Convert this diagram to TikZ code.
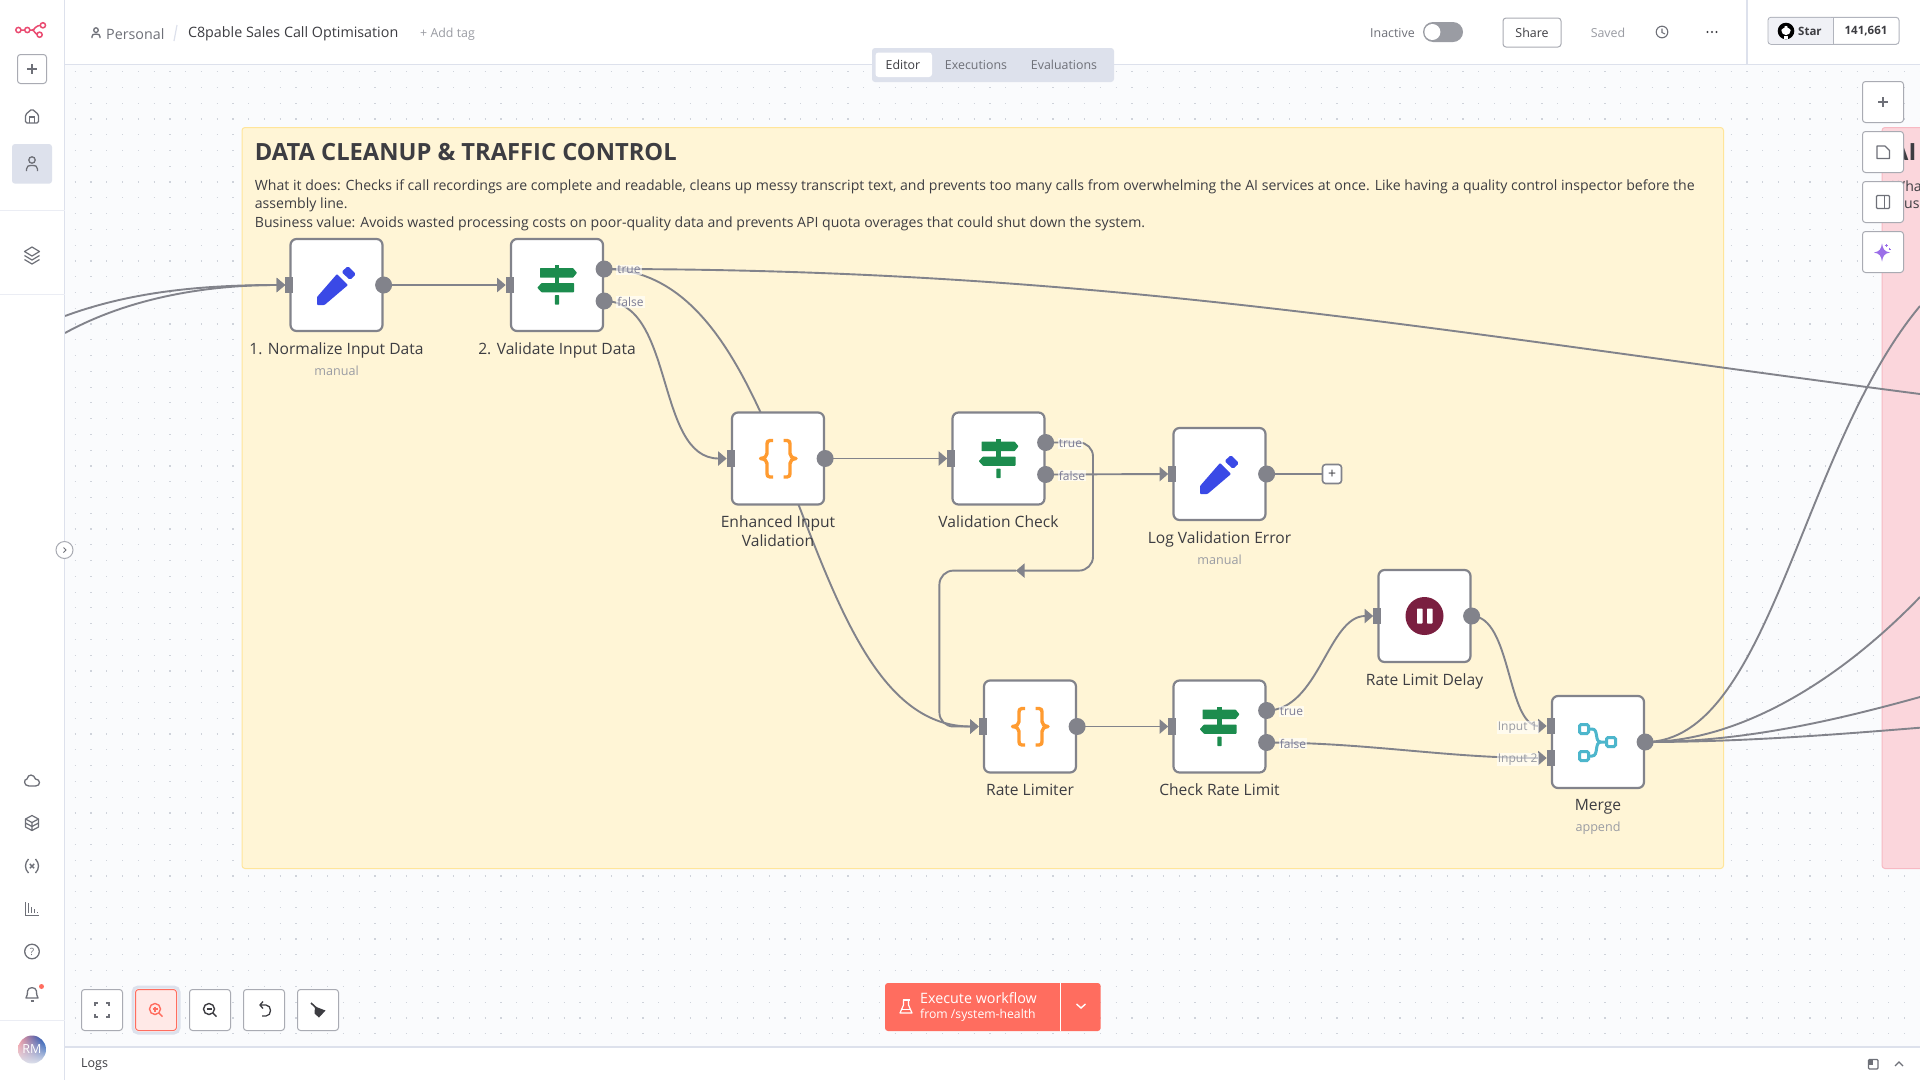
\documentclass[tikz,border=0pt]{standalone}
\usepackage{fontspec}
\setmainfont{Open Sans}
\usetikzlibrary{arrows.meta,shadings}
\definecolor{canvasbg}{HTML}{FAFBFD}
\definecolor{griddot}{HTML}{CFD3DB}
\definecolor{rulecol}{HTML}{DDE1EC}
\definecolor{stickyfill}{HTML}{FFF5D6}
\definecolor{stickyline}{HTML}{FFE59A}
\definecolor{pinkfill}{HTML}{FBD6DC}
\definecolor{pinkline}{HTML}{F7B9C3}
\definecolor{edgecol}{HTML}{82838B}
\definecolor{inkcol}{HTML}{3D3D42}
\definecolor{softcol}{HTML}{9A9CA3}
\definecolor{iconcol}{HTML}{6E7078}
\definecolor{btnline}{HTML}{A9ABB3}
\definecolor{portlab}{HTML}{7D7D95}
\definecolor{coral}{HTML}{FF6D5F}
\definecolor{penblue}{HTML}{3A49E6}
\definecolor{signgreen}{HTML}{1C8C4E}
\definecolor{braceorange}{HTML}{FF9B30}
\definecolor{pausered}{HTML}{7A1F40}
\definecolor{mergeteal}{HTML}{4DB6CC}
\definecolor{logopink}{HTML}{EA4B71}
\definecolor{sparkle}{HTML}{9B6EE8}
\pgfdeclarelayer{canvas}
\pgfdeclarelayer{edges}
\pgfdeclarelayer{ui}
\pgfsetlayers{canvas,edges,main,ui}
\tikzset{
	penicon/.pic={
		\fill[penblue, rounded corners=0.8pt] (-19.5,20) -- (-19.5,12) -- (0.5,-11) -- (11.5,0) -- (-12,20) -- cycle;
		\fill[penblue, rounded corners=1.5pt] (5,-13) -- (11.5,-19) -- (19.5,-10.7) -- (13.5,-5) -- cycle;
	},
	signicon/.pic={
		\fill[signgreen] (-2.2,-20) rectangle (2.2,-15);
		\fill[signgreen] (-2.2,-8) rectangle (2.2,-1);
		\fill[signgreen, rounded corners=0.8pt] (-2.2,10) rectangle (2.2,19.7);
		\fill[signgreen, rounded corners=0.6pt] (-17,-17) -- (16,-17) -- (20,-12.2) -- (16,-7.3) -- (-17,-7.3) -- cycle;
		\fill[signgreen, rounded corners=0.6pt] (17,-2) -- (-15.5,-2) -- (-19.7,2.7) -- (-15.5,7.3) -- (17,7.3) -- cycle;
	},
	braceicon/.pic={
		\draw[braceorange, line width=3.4pt, line join=round] (-5,-18) -- (-8,-18) .. controls (-10.5,-18) and (-11,-16.5) .. (-11,-14.5) -- (-11,-5) .. controls (-11,-2.5) and (-13,-0.5) .. (-17.5,0) .. controls (-13,0.5) and (-11,2.5) .. (-11,5) -- (-11,15) .. controls (-11,17) and (-10.5,18.5) .. (-8,18.5) -- (-5,18.5);
		\draw[braceorange, line width=3.4pt, line join=round] (5.5,-18) -- (9,-18) .. controls (11.5,-18) and (12,-16.5) .. (12,-14.5) -- (12,-5) .. controls (12,-2.5) and (14,-0.5) .. (18,0) .. controls (14,0.5) and (12,2.5) .. (12,5) -- (12,15) .. controls (12,17) and (11.5,18.5) .. (9,18.5) -- (5.5,18.5);
	},
	pauseicon/.pic={
		\fill[pausered] (0,0) circle (19pt);
		\fill[white, rounded corners=0.6pt] (-7.5,-7.5) rectangle (-2,7.5);
		\fill[white, rounded corners=0.6pt] (2.5,-7.5) rectangle (8,7.5);
	},
	mergeicon/.pic={
		\draw[mergeteal, line width=3pt] (-9,-13) -- (-6,-13) .. controls (1,-13) and (-4,0) .. (3,0) -- (8,0);
		\draw[mergeteal, line width=3pt] (-9,14) -- (-6,14) .. controls (1,14) and (-4,0) .. (3,0);
		\draw[mergeteal, line width=3pt, rounded corners=1.5pt] (-18.5,-17.5) rectangle (-9.5,-8.5);
		\draw[mergeteal, line width=3pt, rounded corners=1.5pt] (-18.5,9.5) rectangle (-9.5,18.5);
		\draw[mergeteal, line width=3pt, rounded corners=1.5pt] (8.5,-4.5) rectangle (17.5,4.5);
	},
	plusicon/.pic={
		\draw[iconcol, line width=1.3pt] (-5,0) -- (5,0) (0,-5) -- (0,5);
	},
	homeicon/.pic={
		\draw[iconcol, line width=1.3pt, rounded corners=1.5pt] (-6.5,7) -- (-6.5,-1.5) -- (0,-7) -- (6.5,-1.5) -- (6.5,7) -- cycle;
		\draw[iconcol, line width=1.3pt] (-2.5,7) -- (-2.5,1) -- (2.5,1) -- (2.5,7);
	},
	personicon/.pic={
		\draw[iconcol, line width=1.3pt] (0,-4) circle (3.2pt);
		\draw[iconcol, line width=1.3pt] (-5.5,7) -- (-5.5,5) .. controls (-5.5,2) and (-3.5,1.5) .. (0,1.5) .. controls (3.5,1.5) and (5.5,2) .. (5.5,5) -- (5.5,7);
	},
	layersicon/.pic={
		\draw[iconcol, line width=1.2pt, line join=round] (0,-8) -- (7.5,-3.5) -- (0,1) -- (-7.5,-3.5) -- cycle;
		\draw[iconcol, line width=1.2pt, line join=round] (-7.5,0.5) -- (0,5) -- (7.5,0.5);
		\draw[iconcol, line width=1.2pt, line join=round] (-7.5,4.5) -- (0,9) -- (7.5,4.5);
	},
	cloudicon/.pic={
		\draw[iconcol, line width=1.3pt] (-3,6) -- (3.5,6) .. controls (9,6) and (8.5,-1) .. (3.5,-1) .. controls (2,-6) and (-4,-6.5) .. (-5,-1) .. controls (-8.5,-1) and (-8.5,6) .. (-3,6) -- cycle;
	},
	boxicon/.pic={
		\draw[iconcol, line width=1.2pt, line join=round] (0,-7.5) -- (6.5,-4) -- (0,-0.5) -- (-6.5,-4) -- cycle;
		\draw[iconcol, line width=1.2pt, line join=round] (-6.5,-4) -- (-6.5,4) -- (0,7.5) -- (6.5,4) -- (6.5,-4) (0,-0.5) -- (0,7.5) (-6.5,0) -- (0,3.5) -- (6.5,0);
	},
	varicon/.pic={
		\draw[iconcol, line width=1.3pt] (-3.5,-7) .. controls (-7.5,-3) and (-7.5,3) .. (-3.5,7);
		\draw[iconcol, line width=1.3pt] (3.5,-7) .. controls (7.5,-3) and (7.5,3) .. (3.5,7);
		\draw[iconcol, line width=1.4pt] (-2.2,-2.2) -- (2.2,2.2) (-2.2,2.2) -- (2.2,-2.2);
	},
	charticon/.pic={
		\draw[iconcol, line width=1.2pt] (-6.5,-7) -- (-6.5,6.5) -- (7,6.5);
		\draw[iconcol, line width=1.2pt] (-3.5,4) -- (-3.5,-6) (-0.5,4) -- (-0.5,-2) (2.5,4) -- (2.5,0) (5.5,4) -- (5.5,2.5);
	},
	bellicon/.pic={
		\draw[iconcol, line width=1.3pt, line join=round] (-6,4) .. controls (-4,2) and (-5,-1) .. (-4.5,-3) .. controls (-4,-7.5) and (4,-7.5) .. (4.5,-3) .. controls (5,-1) and (4,2) .. (6,4) -- cycle;
		\draw[iconcol, line width=1.3pt] (-1.5,7) -- (1.5,7);
	},
	loupeicon/.pic={
		\draw[line width=1.4pt] (-1,-1) circle (5.5pt);
		\draw[line width=1.4pt] (3,3) -- (6.5,6.5);
	},
}
\begin{document}
\begin{tikzpicture}
		[x=1pt, y=-1pt,
		wfnode/.style={rectangle, draw=edgecol, fill=white, line width=2.2pt, rounded corners=6pt, minimum width=92pt, minimum height=92pt, inner sep=0pt},
		inport/.style={rectangle, fill=edgecol, inner sep=0pt, minimum width=8pt, minimum height=16.5pt},
		outport/.style={circle, fill=edgecol, inner sep=0pt, minimum width=17pt},
		edge/.style={draw=edgecol, line width=1.9pt},
		flow/.style={edge, -{Triangle[length=8.5pt,width=14pt]}},
		nodelabel/.style={anchor=north, inner sep=0pt, align=center, text=inkcol, font=\fontsize{15.6}{19}\selectfont},
		sublabel/.style={inner sep=0pt, text=softcol, font=\fontsize{12.6}{15}\selectfont},
		portlabel/.style={inner sep=1pt, anchor=west, fill=white, fill opacity=0.6, text opacity=1, text=portlab, font=\fontsize{12}{13}\selectfont},
		inlabel/.style={portlabel, anchor=east, text=softcol},
		uitext/.style={inner sep=0pt, text=iconcol, font=\fontsize{12.4}{14}\selectfont},
		bartext/.style={inner sep=0pt, anchor=west, text=inkcol, font=\fontsize{14.3}{16}\selectfont},
		stickytext/.style={inner sep=0pt, anchor=west, text=inkcol, font=\fontsize{14.1}{16}\selectfont},
		toolbtn/.style={rectangle, draw=btnline, fill=white, line width=1pt, rounded corners=3pt, minimum width=41pt, minimum height=41pt, inner sep=0pt}]
		\useasboundingbox (0,0) rectangle (1920,1080);
		
		\begin{pgfonlayer}{canvas}
		\fill[white] (0,0) rectangle (1920,1080);
		\fill[canvasbg] (65,65) rectangle (1920,1047);
		\foreach \j in {0,...,61}
		\draw[griddot, line width=1.2pt, dash pattern=on 1.2pt off 14.57pt] (74.7,71.7+\j*15.77) -- (1920,71.7+\j*15.77);
		\draw[stickyline, fill=stickyfill, line width=1pt, rounded corners=3pt] (242,127.5) rectangle (1723.5,868.5);
		\draw[pinkline, fill=pinkfill, line width=1pt, rounded corners=3pt] (1882,127.5) rectangle (1930,868.5);
		\node [stickytext, text=inkcol, font=\bfseries\fontsize{23.7}{30}\selectfont](title) at (254.7,152.3) {DATA CLEANUP \& TRAFFIC CONTROL};
		\node [stickytext](line1) at (254.7,186.6) {What it does: Checks if call recordings are complete and readable, cleans up messy transcript text, and prevents too many calls from overwhelming the AI services at once. Like having a quality control inspector before the};
		\node [stickytext](line2) at (254.7,205) {assembly line.};
		\node [stickytext](line3) at (254.7,223.8) {Business value: Avoids wasted processing costs on poor-quality data and prevents API quota overages that could shut down the system.};
		\node [stickytext, font=\bfseries\fontsize{23.7}{30}\selectfont](pinktitle) at (1892,152.3) {AI};
		\node [stickytext](pinkline1) at (1892,186) {Wha};
		\node [stickytext](pinkline2) at (1904,205) {us};
		\end{pgfonlayer}
		
		\foreach \nm/\x/\y/\ic/\lab in {norm/336.5/285/penicon/1. Normalize Input Data, valid/557/285/signicon/2. Validate Input Data, enh/778/458.5/braceicon/{Enhanced Input\\Validation}, check/998.5/458.5/signicon/Validation Check, logerr/1219.5/474/penicon/Log Validation Error, limiter/1030/726.5/braceicon/Rate Limiter, ratecheck/1219.5/726.5/signicon/Check Rate Limit, delay/1424.5/616/pauseicon/Rate Limit Delay, merge/1598/742/mergeicon/Merge}
		{
		\node [wfnode](\nm) at (\x,\y) {};
		\pic at (\nm) {\ic};
		\node [nodelabel](\nm-lab) at (\x,\y+57) {\lab};
		}
		\node [sublabel](norm-sub) at (336.5,370.7) {manual};
		\node [sublabel](logerr-sub) at (1219.5,560) {manual};
		\node [sublabel](merge-sub) at (1598,828.7) {append};
		
		% ports
		\foreach \nm in {norm, valid, enh, check, logerr, limiter, ratecheck, delay}
		\node [inport](\nm-in) at (\nm.west) {};
		\foreach \nm in {norm, enh, logerr, limiter, delay, merge}
		\node [outport](\nm-out) at (\nm.east) {};
		\foreach \nm in {valid, check, ratecheck}
		{
		\node [outport](\nm-t) at ([yshift=16pt]\nm.east) {};
		\node [outport](\nm-f) at ([yshift=-16pt]\nm.east) {};
		\node [portlabel](\nm-tlab) at ([xshift=12pt,yshift=-1pt]\nm-t.center) {true};
		\node [portlabel](\nm-flab) at ([xshift=12pt,yshift=-1pt]\nm-f.center) {false};
		}
		\node [inport](merge-a) at ([yshift=16pt]merge.west) {};
		\node [inport](merge-b) at ([yshift=-16pt]merge.west) {};
		\node [inlabel](merge-alab) at ([xshift=-8pt,yshift=-1.5pt]merge-a.west) {Input 1};
		\node [inlabel](merge-blab) at ([xshift=-8pt,yshift=-1.5pt]merge-b.west) {Input 2};
		\node [rectangle, draw=edgecol, fill=white, line width=1.6pt, rounded corners=3pt, minimum width=19pt, minimum height=19pt, inner sep=0pt, text=inkcol, font=\fontsize{14}{14}\selectfont](addstep) at (1332,474) {+};
		
		% free ends off the page
		\coordinate (offa) at (65,316);
		\coordinate (offb) at (65,333);
		\coordinate (offc) at (1920,394);
		\coordinate (offd) at (1920,306);
		\coordinate (offe) at (1920,597);
		\coordinate (offf) at (1920,697);
		\coordinate (offg) at (1920,727.7);
		\coordinate (loopr) at (1093,442.5);
		\coordinate (loopd) at (1093,570.6);
		\coordinate (loopmid) at (1016,570.6);
		\coordinate (loopl) at (939.4,570.6);
		\coordinate (loopb) at (939.4,726.5);
		
		\begin{pgfonlayer}{edges}
		\draw[flow] (offa) .. controls (130,292) and (200,285) .. (norm-in.west);
		\draw[flow] (offb) .. controls (125,300) and (200,285) .. (norm-in.west);
		\draw[flow] (norm-out.center) -- (valid-in.west);
		\draw[edge] (valid-t.center) .. controls (1100,269) and (1420,329) .. (offc);
		\draw[flow] (valid-t.center) .. controls +(200,0) and +(-185.5,0) .. (limiter-in.west);
		\draw[flow] (valid-f.center) .. controls (675,301) and (655,458.5) .. (enh-in.west);
		\draw[flow] (enh-out.center) -- (check-in.west);
		\draw[flow, rounded corners=14pt] (check-t.center) -- (loopr) -- (loopd) -- (loopmid);
		\draw[flow, rounded corners=14pt] (loopmid) -- (loopl) -- (loopb) -- (limiter-in.west);
		\draw[flow] (check-f.center) -- (logerr-in.west);
		\draw[edge] (logerr-out.center) -- (addstep.west);
		\draw[flow] (limiter-out.center) -- (ratecheck-in.west);
		\draw[flow] (ratecheck-t.center) .. controls +(52,0) and +(-45,0) .. (delay-in.west);
		\draw[flow] (ratecheck-f.center) .. controls +(100,0) and +(-100,0) .. (merge-b.west);
		\draw[flow] (delay-out.center) .. controls +(40,0) and +(-40,0) .. (merge-a.west);
		\draw[edge] (merge-out.center) .. controls (1770,742) and (1800,450) .. (offd);
		\draw[edge] (merge-out.center) .. controls (1740,742) and (1840,680) .. (offe);
		\draw[edge] (merge-out.center) .. controls (1740,742) and (1830,722) .. (offf);
		\draw[edge] (merge-out.center) .. controls (1740,742) and (1830,735) .. (offg);
		\end{pgfonlayer}
		
		\begin{pgfonlayer}{ui}
		% sidebar and bars
		\fill[white] (0,0) rectangle (64.5,1080);
		\fill[white] (64.5,0) rectangle (1920,64.5);
		\fill[white] (64.5,1047) rectangle (1920,1080);
		\draw[rulecol, line width=1.2pt] (64.5,0) -- (64.5,1080);
		\draw[rulecol, line width=1.2pt] (64.5,64.5) -- (1920,64.5);
		\draw[rulecol, line width=1.2pt] (64.5,1047) -- (1920,1047);
		\draw[rulecol, line width=1.2pt] (1747,0) -- (1747,64.5);
		\draw[rulecol!60!white, line width=1pt] (0,210.7) -- (64.5,210.7);
		\draw[rulecol!60!white, line width=1pt] (0,294.7) -- (64.5,294.7);
		\draw[rulecol!60!white, line width=1pt] (0,1020.7) -- (64.5,1020.7);
		
		\coordinate (logoa) at (18.4,30);
		\coordinate (logob) at (27.3,30);
		\coordinate (logoc) at (42.9,25.3);
		\coordinate (logod) at (39.6,34.7);
		\draw[logopink, line width=1.5pt] (logoa) -- (logob) -- (32,30) .. controls (36,30) and (33,25.3) .. (logoc);
		\draw[logopink, line width=1.5pt] (32,30) .. controls (35,30) and (34,34.7) .. (logod);
		\foreach \pt in {logoa, logob, logoc, logod}
		\draw[logopink, fill=white, line width=1.5pt] (\pt) circle (2.6pt);
		
		\node [toolbtn, minimum width=29pt, minimum height=29pt](newbtn) at (32,69) {};
		\pic at (newbtn) {plusicon};
		\pic at (32,116) {homeicon};
		\fill[rulecol, rounded corners=3pt] (12,144) rectangle (52,183.7);
		\pic at (32,164) {personicon};
		\pic at (32,255) {layersicon};
		\pic at (32,780) {cloudicon};
		\pic at (32,823) {boxicon};
		\pic at (32,866) {varicon};
		\pic at (32,909) {charticon};
		\draw[iconcol, line width=1.3pt] (32,951.5) circle (7.3pt);
		\node [uitext, font=\fontsize{10}{10}\selectfont](helpmark) at (32,951.5) {?};
		\pic at (32,994) {bellicon};
		\fill[coral] (41.5,986.5) circle (2.5pt);
		\begin{scope}
		\clip (32,1049.5) circle (14pt);
		\shade[upper left=pinkfill!70!red, upper right=blue!60!cyan!70!black, lower left=rulecol, lower right=rulecol] (18,1035.5) rectangle (46,1063.5);
		\end{scope}
		\node [uitext, text=white, font=\fontsize{12.5}{14}\selectfont](avatar) at (32,1049.5) {RM};
		\draw[btnline, fill=white, line width=1pt] (64.5,550) circle (8.5pt);
		\draw[iconcol, line width=1pt] (63.5,547.5) -- (66,550) -- (63.5,552.5);
		
		% header
		\pic[scale=0.72] at (96,33) {personicon};
		\node [bartext, text=iconcol](personal) at (106,34) {Personal};
		\draw[rulecol, line width=1.2pt] (177,25) -- (174,41);
		\node [bartext](wfname) at (187.8,34) {C8pable Sales Call Optimisation};
		\node [uitext, anchor=west, text=softcol](addtag) at (420,33.8) {+ Add tag};
		\node [uitext, anchor=west](inactive) at (1370,33) {Inactive};
		\fill[softcol, rounded corners=10pt] (1423,22) rectangle (1463,42);
		\fill[white] (1432.4,32) circle (8pt);
		\node [toolbtn, minimum width=58pt, minimum height=29pt, text=inkcol, font=\fontsize{12.4}{14}\selectfont](share) at (1532,32.5) {Share};
		\node [uitext, text=softcol](saved) at (1608,32.5) {Saved};
		\draw[iconcol, line width=1.1pt] (1662,32) circle (5.8pt);
		\draw[iconcol, line width=1.1pt] (1662,28.5) -- (1662,32.5) -- (1665,34);
		\foreach \x in {1707.5,1712,1716.5}
		\fill[inkcol] (\x,32) circle (1.2pt);
		\draw[rulecol!80!black, fill=white, line width=1pt, rounded corners=3pt] (1768,17.3) rectangle (1899,44.3);
		\fill[rulecol!45!white, rounded corners=3pt] (1768.5,17.8) rectangle (1833.6,43.8);
		\draw[rulecol!80!black, line width=1pt] (1833.6,17.3) -- (1833.6,44.3);
		\fill[black] (1786,31) circle (8.3pt);
		\fill[white] (1786,30.5) circle (4.6pt);
		\fill[white] (1784,36) rectangle (1788,39.4);
		\fill[black] (1781.5,25) -- (1785,27) -- (1782,29) -- cycle;
		\fill[black] (1790.5,25) -- (1787,27) -- (1790,29) -- cycle;
		\node [uitext, anchor=west, text=inkcol, font=\bfseries\fontsize{11.5}{14}\selectfont](star) at (1798,31) {Star};
		\node [uitext, text=inkcol, font=\bfseries\fontsize{11.5}{14}\selectfont](stars) at (1866,31) {141,661};
		
		% tabs
		\fill[rulecol, rounded corners=3pt] (872,48) rectangle (1114,82);
		\fill[white, rounded corners=3pt] (875.5,52.5) rectangle (932,77);
		\node [uitext, text=inkcol](tabeditor) at (903,65) {Editor};
		\node [uitext](tabruns) at (976,65) {Executions};
		\node [uitext](tabevals) at (1064,65) {Evaluations};
		
		% buttons on the right
		\foreach \nm/\y in {zoomadd/102, sticky/152, panel/202, spark/252}
		\node [toolbtn](\nm) at (1883,\y) {};
		\pic at (zoomadd) {plusicon};
		\draw[iconcol, line width=1.2pt, line join=round] (1877,146) -- (1885,146) -- (1889.5,150.5) -- (1889.5,158.5) -- (1877,158.5) -- cycle;
		\draw[iconcol, line width=1.2pt, rounded corners=1pt] (1876.5,195.5) rectangle (1889.5,208.5);
		\draw[iconcol, line width=1.2pt] (1884.5,195.5) -- (1884.5,208.5);
		\fill[sparkle] (1882,243.5) .. controls (1883,249.5) and (1884.5,251.5) .. (1890,252.5) .. controls (1884.5,253.5) and (1883,255.5) .. (1882,261.5) .. controls (1881,255.5) and (1879.5,253.5) .. (1874,252.5) .. controls (1879.5,251.5) and (1881,249.5) .. (1882,243.5) -- cycle;
		\draw[sparkle, line width=0.8pt] (1884.5,245.5) -- (1887.5,245.5) (1886,244) -- (1886,247);
		\draw[sparkle, line width=0.8pt] (1888.5,249) -- (1891,249) (1889.8,247.8) -- (1889.8,250.2);
		
		% buttons bottom left
		\foreach \nm/\x in {fitbtn/102, zoomoutbtn/210, undobtn/264, tidybtn/318}
		\node [toolbtn](\nm) at (\x,1010) {};
		\draw[rulecol, line width=3pt, fill=white, rounded corners=5pt] (133,987) rectangle (179,1033);
		\node [toolbtn, draw=coral, fill=coral!15!white](zoominbtn) at (156,1010) {};
		\draw[iconcol, line width=1.4pt] (95,1006) -- (95,1003) -- (98,1003) (106,1003) -- (109,1003) -- (109,1006) (109,1014) -- (109,1017) -- (106,1017) (98,1017) -- (95,1017) -- (95,1014);
		\pic[coral] at (156,1010) {loupeicon};
		\draw[coral, line width=1.2pt] (152.5,1009) -- (157.5,1009) (155,1006.5) -- (155,1011.5);
		\pic[inkcol] at (210,1010) {loupeicon};
		\draw[inkcol, line width=1.2pt] (206.5,1009) -- (211.5,1009);
		\draw[inkcol, line width=1.3pt] (263,1001.5) -- (260,1005) -- (263,1008.5) (260,1005) -- (266,1005) .. controls (272,1005) and (272,1016) .. (266,1016) -- (262,1016);
		\draw[inkcol, line width=1.6pt] (311,1003) -- (317,1008.5);
		\fill[inkcol] (315,1006.5) -- (325.5,1010.5) -- (319,1017.5) -- (314.5,1013.5) -- cycle;
		
		% execute button
		\fill[coral, rounded corners=3pt] (885,983) rectangle (1100.7,1031);
		\draw[white, line width=1pt] (1060.3,983) -- (1060.3,1031);
		\draw[white, line width=1.2pt, line join=round] (903.5,1000) -- (903.5,1005) -- (900,1013) -- (912,1013) -- (908.5,1005) -- (908.5,1000);
		\draw[white, line width=1.2pt] (902.5,1000) -- (909.5,1000) (902,1009.5) -- (910,1009.5);
		\node [inner sep=0pt, anchor=west, text=white, font=\fontsize{14.3}{16}\selectfont](execa) at (920,998) {Execute workflow};
		\node [inner sep=0pt, anchor=west, text=white, font=\fontsize{12.2}{14}\selectfont](execb) at (920,1015) {from /system-health};
		\draw[white, line width=1.4pt] (1076.5,1004) -- (1081,1008) -- (1085.5,1004);
		
		% logs
		\node [bartext, font=\fontsize{12.5}{15}\selectfont](logs) at (81,1065) {Logs};
		\draw[iconcol, line width=1.2pt, rounded corners=1pt] (1868.5,1059.5) rectangle (1878,1069);
		\fill[iconcol] (1868.5,1059.5) rectangle (1873,1065);
		\draw[iconcol, line width=1.2pt] (1895,1066) -- (1899,1062) -- (1903,1066);
		\end{pgfonlayer}
		\end{tikzpicture}
\end{document}
